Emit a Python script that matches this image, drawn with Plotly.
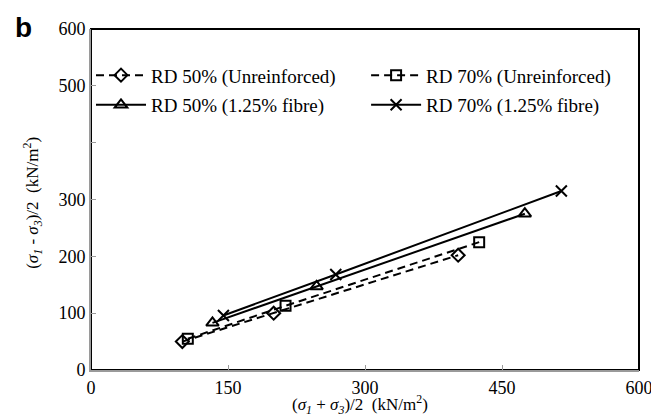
import plotly.graph_objects as go

# Data
x_rd50_unr = [100, 200, 402]
y_rd50_unr = [50, 100, 202]
x_rd70_unr = [106, 213, 425]
y_rd70_unr = [55, 113, 225]
x_rd50_fib = [133, 247, 475]
y_rd50_fib = [83, 147, 275]
x_rd70_fib = [145, 268, 515]
y_rd70_fib = [96, 168, 315]

names = ["RD 50% (Unreinforced)", "RD 70% (Unreinforced)",
         "RD 50% (1.25% fibre)", "RD 70% (1.25% fibre)"]

x_ticks = [0, 150, 300, 450, 600]
y_ticks = [0, 100, 200, 300, 500, 600]   # 400 label hidden behind legend box
y_minor_ticks = [400]

x_title = "(<i>σ<sub>1</sub></i> + <i>σ<sub>3</sub></i>)/2&nbsp; (kN/m<sup>2</sup>)"
y_title = "(<i>σ<sub>1</sub></i> - <i>σ<sub>3</sub></i>)/2&nbsp; (kN/m<sup>2</sup>)"

FONT = "Liberation Serif"

fig = go.Figure()

series = [
    (x_rd50_unr, y_rd50_unr, names[0], "8px,5px", "diamond-open", 10, "legend", "g1"),
    (x_rd70_unr, y_rd70_unr, names[1], "8px,5px", "square-open", 10, "legend2", "g3"),
    (x_rd50_fib, y_rd50_fib, names[2], "solid", "triangle-up-open", 11, "legend", "g2"),
    (x_rd70_fib, y_rd70_fib, names[3], "solid", "x-thin", 11, "legend2", "g4"),
]
for xs, ys, nm, dash, sym, sz, lg, grp in series:
    fig.add_trace(go.Scatter(
        x=xs, y=ys, name=nm, mode="lines+markers",
        line=dict(color="black", width=2, dash=dash),
        marker=dict(symbol=sym, size=sz, color="black",
                    line=dict(color="black", width=2)),
        legend=lg, legendgroup=grp,
    ))

legend_common = dict(
    font=dict(family=FONT, size=19, color="black"),
    bgcolor="rgba(0,0,0,0)", borderwidth=0,
    itemwidth=50, tracegroupgap=2,
    xanchor="left", yanchor="top",
)

tick_font = dict(family=FONT, size=18, color="black")
title_font = dict(family=FONT, size=17, color="black")

fig.update_layout(
    width=659, height=417,
    margin=dict(l=83, r=28, t=21, b=55),
    paper_bgcolor="white", plot_bgcolor="white",
    showlegend=True,
    legend=dict(x=0.0, y=0.92, **legend_common),
    legend2=dict(x=0.502, y=0.92, **legend_common),
    font=tick_font,
    xaxis=dict(
        range=[0, 600], tickmode="array", tickvals=x_ticks,
        showgrid=False, zeroline=False, automargin=False,
        showline=True, linecolor="#9a9a9a", linewidth=2,
        ticks="inside", ticklen=5, tickcolor="#9a9a9a", tickwidth=1,
        tickfont=tick_font,
    ),
    yaxis=dict(
        range=[0, 600], tickmode="array", tickvals=y_ticks,
        minor=dict(tickmode="array", tickvals=y_minor_ticks, ticks="inside",
                   ticklen=5, tickcolor="#9a9a9a", tickwidth=1, showgrid=False),
        showgrid=False, zeroline=False, automargin=False,
        showline=True, linecolor="#9a9a9a", linewidth=2,
        ticks="inside", ticklen=5, tickcolor="#9a9a9a", tickwidth=1,
        tickfont=tick_font,
    ),
    shapes=[dict(type="rect", xref="paper", yref="paper", x0=0, y0=0, x1=1, y1=1,
                 line=dict(color="black", width=2), layer="below")],
    annotations=[
        dict(text="<b>b</b>", x=-0.143, y=1.003, xref="paper", yref="paper",
             xanchor="left", yanchor="middle", showarrow=False,
             font=dict(family="Liberation Sans", size=28, color="black")),
        dict(text=x_title, x=0.49, y=-0.145, xref="paper", yref="paper",
             xanchor="center", yanchor="bottom", showarrow=False, font=title_font),
        dict(text=y_title, x=-0.106, y=0.49, xref="paper", yref="paper",
             xanchor="center", yanchor="middle", showarrow=False, textangle=-90,
             font=title_font),
    ],
)

fig.write_html("out.html")
